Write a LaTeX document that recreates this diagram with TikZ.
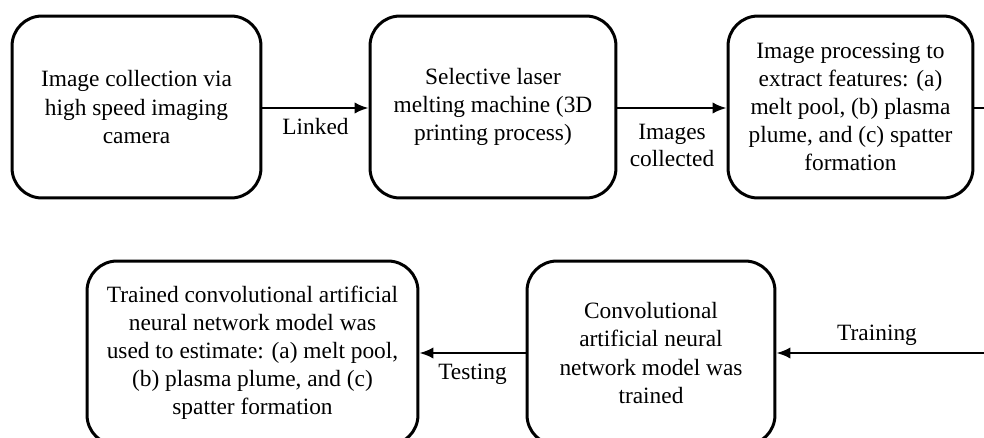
\documentclass[tikz,border=0pt]{standalone}
\usepackage{fontspec}
\setmainfont{Liberation Serif}
\usepackage{tikz}
\usetikzlibrary{positioning, arrows.meta}

\begin{document}
\begin{tikzpicture}[
  x=0.02cm, y=-0.02cm,
  stage/.style={draw, rounded corners=0.6cm, line width=1.7pt,
    minimum height=3.64cm, align=center,
    font=\fontsize{13.3}{16}\selectfont},
  flow/.style={-{Latex[length=2.8mm, width=2.3mm]}, line width=1.4pt},
  label/.style={font=\fontsize{13.3}{15.6}\selectfont, align=center},
]
  \clip (0,0) rectangle (984,437);

  % Top row
  \node[stage, minimum width=4.98cm] (camera) at (136.5,107)
    {Image collection via\\high speed imaging\\camera};
  \node[stage, minimum width=4.92cm] (slm) at (493,107)
    {Selective laser\\melting machine (3D\\printing process)};
  \node[stage, minimum width=4.9cm] (proc) at (850.5,107)
    {Image processing to\\extract features: (a)\\melt pool, (b) plasma\\plume, and (c) spatter\\formation};

  % Bottom row
  \node[stage, minimum width=6.62cm, minimum height=3.68cm] (estimate) at (252.5,353)
    {Trained convolutional artificial\\neural network model was\\used to estimate: (a) melt pool,\\(b) plasma plume, and (c)\\spatter formation};
  \node[stage, minimum width=4.96cm, minimum height=3.68cm] (cnn) at (651,353)
    {Convolutional\\artificial neural\\network model was\\trained};

  % Turn at the right edge
  \coordinate (turntop) at (1000,108);
  \coordinate (turnbot) at (1000,353);

  % Connectors
  \draw[flow] (camera.east |- 0,108) -- node[label, below=2pt] {Linked} (slm.west |- 0,108);
  \draw[flow] (slm.east |- 0,108) -- node[label, below=5pt] {Images\\collected} (proc.west |- 0,108);
  \draw[flow] (proc.east |- turntop) -- (turntop) -- (turnbot)
    -- node[label, above=0pt, pos=0.55] {Training} (cnn.east);
  \draw[flow] (cnn) -- node[label, below=2pt] {Testing} (estimate);
\end{tikzpicture}
\end{document}
